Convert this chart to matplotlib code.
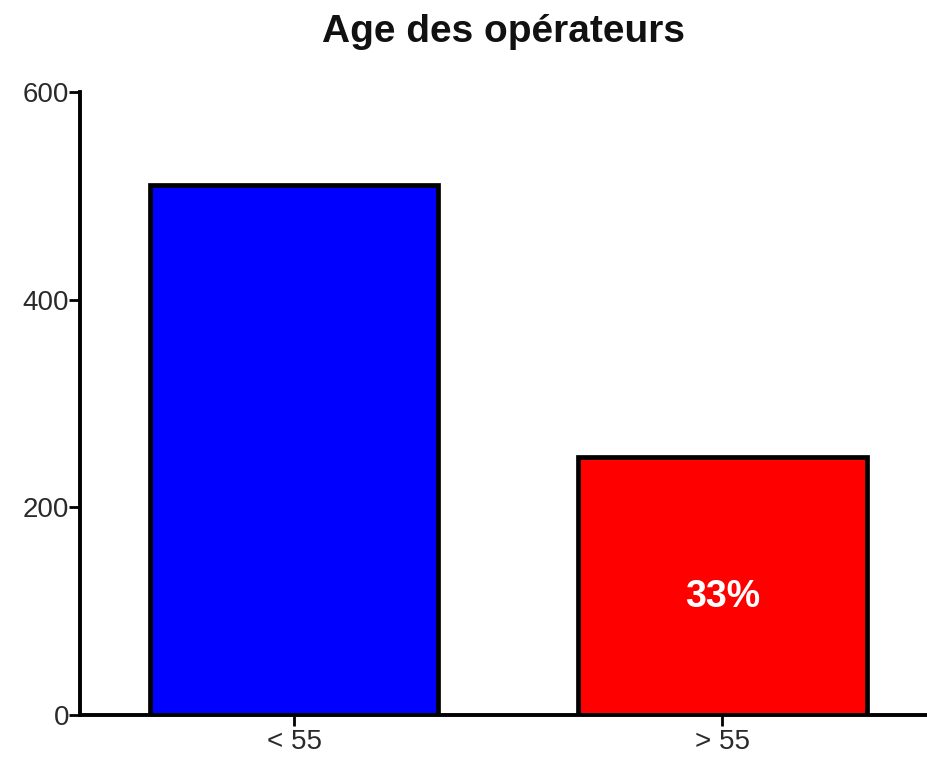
import matplotlib
matplotlib.use("Agg")
import matplotlib.pyplot as plt

categories = ["< 55", "> 55"]
values = [510, 248]
colors = ["#0000ff", "#ff0000"]
bar_labels = ["", "33%"]
yticks = [0, 200, 400, 600]
title = "Age des opérateurs"

plt.rcParams['font.family'] = ['Liberation Sans', 'DejaVu Sans']

fig = plt.figure(figsize=(9.28, 7.6), dpi=100)
ax = fig.add_axes([0.0862, 0.0592, 0.9138, 0.8198])

x = list(range(len(categories)))
bars = ax.bar(x, values, width=0.674, color=colors, edgecolor="black", linewidth=3.4, zorder=2)
for b, lab in zip(bars, bar_labels):
    if lab:
        ax.text(b.get_x() + b.get_width() / 2, 0.46 * b.get_height(), lab,
                ha="center", va="center", color="white", fontsize=27, fontweight="bold")

ax.set_xlim(-0.5, 1.48)
ax.set_ylim(0, 600)
ax.set_yticks(yticks)
ax.set_xticks(x)
ax.set_xticklabels(categories)
for s in ["top", "right"]:
    ax.spines[s].set_visible(False)
for s in ["left", "bottom"]:
    ax.spines[s].set_linewidth(2.8)
ax.tick_params(axis="both", direction="out", width=2, length=8, labelsize=20, colors="black",
               labelcolor="#2a2a2a")
ax.tick_params(axis="y", pad=0)
ax.tick_params(axis="x", pad=2)
ax.set_title(title, fontsize=28, fontweight="bold", pad=36, color="#111111", x=0.5)

fig.savefig("out.png", dpi=100)
